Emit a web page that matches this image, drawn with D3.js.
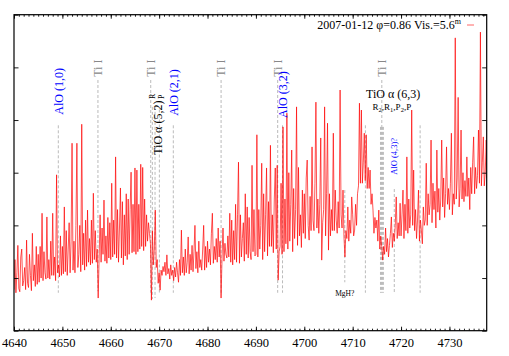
<!DOCTYPE html>
<html>
<head>
<meta charset="utf-8">
<script src="https://cdn.jsdelivr.net/npm/d3@7"></script>
<style>
body { margin: 0; background: #fff; }
svg text { font-family: "Liberation Serif", "DejaVu Serif", serif; }
</style>
</head>
<body>
<div id="chart"></div>
<script>
// spectrum, one value every 0.2 A from 4640.0 A (relative flux), 5 A per row
var waveStart = 4640;
var waveStep = 0.2;
var flux = [
  0.78, 1.35, 0.72, 1.10, 1.62, 0.80, 0.74, 1.40, 1.55, 0.85, 0.95, 1.20, 0.78, 1.72, 0.90, 0.82, 1.45, 1.05, 0.76, 1.85, 0.95, 1.25, 0.84, 1.60, 0.88,
  1.45, 0.92, 1.60, 1.00, 2.23, 0.95, 1.50, 1.10, 0.98, 2.16, 1.00, 1.35, 0.98, 1.70, 1.05, 2.23, 1.05, 1.40, 0.95, 2.96, 1.10, 1.25, 1.02, 1.80, 1.05,
  1.60, 1.08, 2.35, 1.12, 1.90, 1.05, 1.55, 2.05, 1.10, 1.70, 3.56, 1.15, 1.70, 1.10, 2.00, 3.56, 1.20, 1.45, 2.00, 1.12, 3.92, 1.25, 1.85, 1.15, 2.10,
  1.22, 2.29, 1.30, 1.75, 1.25, 2.10, 1.28, 2.61, 1.35, 1.90, 1.30, 1.55, 0.62, 1.40, 2.20, 1.30, 1.95, 1.45, 2.48, 1.32, 1.80, 1.28, 2.15, 1.38, 2.05,
  1.35, 2.80, 1.40, 2.10, 1.45, 3.30, 1.38, 2.30, 1.30, 1.95, 2.71, 1.38, 2.45, 1.25, 2.20, 1.42, 2.60, 1.35, 2.50, 1.45, 2.30, 3.01, 1.48, 2.40, 1.50,
  3.09, 1.45, 3.05, 1.50, 2.40, 1.55, 3.16, 1.60, 3.10, 1.52, 2.50, 1.60, 2.20, 1.70, 2.05, 1.85, 1.65, 0.58, 1.90, 1.25, 1.55, 2.29, 1.20, 1.35, 0.90,
  1.10, 0.77, 1.15, 1.05, 1.22, 1.12, 1.30, 1.05, 1.44, 1.08, 1.18, 0.98, 1.25, 1.05, 1.15, 0.95, 1.20, 1.02, 1.30, 1.10, 0.92, 1.35, 1.05, 1.91, 1.10,
  1.40, 1.05, 1.55, 1.10, 1.30, 1.78, 1.08, 1.45, 1.15, 1.62, 1.12, 1.50, 2.00, 1.18, 1.50, 1.10, 1.70, 1.20, 1.35, 1.15, 1.55, 2.00, 1.15, 1.60, 1.20,
  1.70, 1.30, 1.55, 1.25, 1.85, 2.23, 1.28, 1.60, 1.35, 1.75, 1.30, 1.95, 1.40, 1.70, 0.62, 1.40, 1.95, 1.32, 1.66, 1.45, 1.38, 1.80, 1.40, 2.23, 1.30,
  2.10, 1.25, 1.90, 1.35, 2.40, 1.30, 2.20, 3.20, 1.28, 2.20, 1.40, 1.75, 2.05, 1.32, 2.60, 1.45, 2.35, 1.38, 2.15, 1.50, 1.35, 3.14, 1.50, 2.30, 1.42,
  1.45, 3.72, 1.40, 2.30, 1.55, 2.00, 3.18, 1.35, 2.60, 1.50, 2.20, 3.09, 1.42, 2.45, 1.60, 3.52, 1.60, 2.20, 1.48, 2.50, 3.09, 1.55, 3.14, 0.96, 1.50,
  1.60, 2.80, 1.45, 3.87, 1.50, 2.50, 1.65, 4.13, 1.55, 3.00, 1.70, 2.40, 3.43, 1.50, 2.70, 1.75, 2.30, 4.25, 1.62, 3.10, 1.80, 2.20, 1.58, 2.67, 1.85,
  2.60, 1.75, 2.90, 3.24, 2.00, 1.72, 2.55, 1.90, 3.49, 2.10, 1.90, 2.80, 4.34, 1.95, 2.50, 1.85, 2.40, 3.66, 1.34, 2.05, 2.30, 4.25, 1.80, 2.60, 3.94,
  1.53, 2.60, 1.80, 2.30, 1.90, 3.75, 1.90, 2.67, 2.10, 1.85, 2.45, 1.95, 4.57, 2.20, 1.95, 2.67, 1.78, 1.40, 1.90, 1.75, 2.35, 1.70, 2.10, 1.85, 2.54,
  2.20, 1.80, 1.91, 2.40, 2.00, 2.60, 2.75, 4.32, 2.80, 4.19, 2.80, 3.20, 3.75, 2.85, 3.72, 2.70, 3.10, 2.70, 3.05, 2.40, 2.60, 2.29, 1.85, 2.15, 1.95,
  2.10, 1.70, 2.29, 1.55, 1.80, 1.60, 1.34, 1.60, 1.45, 1.95, 1.50, 1.75, 1.40, 1.62, 1.85, 2.16, 1.58, 1.85, 1.70, 2.00, 2.54, 1.75, 2.05, 1.80, 2.42,
  1.80, 2.20, 2.67, 1.75, 2.40, 1.90, 3.30, 1.85, 2.50, 1.95, 2.20, 4.19, 2.00, 3.05, 1.90, 2.30, 1.75, 2.10, 2.67, 1.70, 2.10, 1.91, 1.65, 2.35, 2.00,
  2.10, 3.18, 2.00, 2.60, 2.20, 2.40, 3.62, 2.05, 2.80, 2.30, 2.65, 1.95, 3.43, 2.25, 2.70, 2.10, 2.50, 3.62, 2.35, 2.90, 2.15, 2.60, 3.49, 2.40, 2.70,
  2.30, 2.80, 3.75, 2.20, 2.60, 2.40, 5.56, 2.50, 2.90, 4.43, 2.35, 2.70, 3.81, 2.50, 3.00, 2.45, 2.85, 2.55, 3.30, 2.55, 2.90, 2.30, 3.10, 2.60, 3.20,
  3.68, 2.60, 3.10, 2.70, 2.95, 3.81, 2.80, 5.67, 2.75, 3.20, 3.68, 2.75, 3.00, 3.62, 2.90, 3.30
];

var xTicks = [4640, 4650, 4660, 4670, 4680, 4690, 4700, 4710, 4720, 4730];
var yTicks = [0, 1, 2, 3, 4, 5, 6];

var legendDate = "2007-01-12 φ=0.86 Vis.=5.6";
var legendSup = "m";

// identification lines: wavelength, top, bottom (flux units)
var idLines = [
  [4649.16, 3.90, 0.72], // AlO (1,0)
  [4657.35, 4.76, 0.75], // Ti I
  [4668.26, 4.76, 0.72], // Ti I
  [4668.60, 4.25, 0.60], // TiO R
  [4669.15, 4.25, 0.62],
  [4670.05, 4.20, 0.72], // TiO P
  [4672.93, 3.90, 0.72], // AlO (2,1)
  [4682.80, 4.76, 0.72], // Ti I
  [4694.50, 4.76, 0.72], // Ti I
  [4695.50, 3.90, 0.72], // AlO (3,2)
  [4708.37, 2.67, 0.92], // MgH?
  [4712.63, 3.90, 0.72],
  [4715.75, 3.87, 0.72], // TiO (6,3)
  [4715.95, 3.87, 0.72],
  [4716.15, 3.87, 0.72],
  [4716.35, 3.87, 0.72],
  [4716.02, 4.76, 3.87], // Ti I
  [4718.60, 2.69, 0.72], // AlO (4,3)?
  [4723.94, 3.90, 0.72]
];

// vertical labels: wavelength, flux where the text starts, text, kind
var sideLabels = [
  [4649.16, 4.10, "AlO (1,0)", "alo"],
  [4657.35, 4.82, "Ti I", "ti"],
  [4668.26, 4.82, "Ti I", "ti"],
  [4669.63, 3.34, "TiO α (5,2)", "tio"],
  [4668.63, 4.40, "R", "branch"],
  [4670.35, 4.40, "P", "branch"],
  [4672.93, 4.08, "AlO (2,1)", "alo"],
  [4682.80, 4.82, "Ti I", "ti"],
  [4694.50, 4.82, "Ti I", "ti"],
  [4695.50, 4.04, "AlO (3,2)", "alo"],
  [4716.02, 4.82, "Ti I", "ti"],
  [4718.60, 2.96, "AlO (4,3)?", "alosmall"]
];

var W = 509, H = 356;
var plotL = 14, plotR = 486.7, plotT = 14.7, plotB = 330.7;

var svg = d3.select("#chart")
  .append("svg")
  .attr("width", W)
  .attr("height", H);

var x = d3.scaleLinear().domain([4640, 4737.7]).range([plotL, plotR]);
var y = d3.scaleLinear().domain([0, 6]).range([plotB, plotT]);

svg.append("clipPath").attr("id", "plotclip")
  .append("rect")
  .attr("x", plotL).attr("y", plotT)
  .attr("width", plotR - plotL).attr("height", plotB - plotT);

// dashed identification lines
svg.append("g")
  .selectAll("line")
  .data(idLines)
  .enter()
  .append("line")
  .attr("x1", function(d) { return x(d[0]); })
  .attr("x2", function(d) { return x(d[0]); })
  .attr("y1", function(d) { return y(d[1]); })
  .attr("y2", function(d) { return y(d[2]); })
  .attr("stroke", "#aaaaaa")
  .attr("stroke-width", 0.8)
  .attr("stroke-dasharray", "3,2");

// the spectrum
var line = d3.line()
  .x(function(d, i) { return x(waveStart + i * waveStep); })
  .y(function(d) { return y(d); });

svg.append("path")
  .datum(flux)
  .attr("clip-path", "url(#plotclip)")
  .attr("fill", "none")
  .attr("stroke", "#ff0000")
  .attr("stroke-width", 0.75)
  .attr("stroke-opacity", 0.9)
  .attr("d", line);

// axes, ticks pointing inward
var gx = svg.append("g").attr("transform", "translate(0," + plotB + ")")
  .call(d3.axisBottom(x).tickValues(xTicks).tickSize(-4).tickPadding(7).tickFormat(d3.format("d")));
svg.append("g").attr("transform", "translate(0," + plotB + ")")
  .call(d3.axisBottom(x).tickValues(d3.range(4641, 4738, 1)).tickSize(-2).tickFormat(""));
svg.append("g").attr("transform", "translate(0," + plotT + ")")
  .call(d3.axisTop(x).tickValues(xTicks).tickSize(-4).tickFormat(""));
svg.append("g").attr("transform", "translate(0," + plotT + ")")
  .call(d3.axisTop(x).tickValues(d3.range(4641, 4738, 1)).tickSize(-2).tickFormat(""));
svg.append("g").attr("transform", "translate(" + plotL + ",0)")
  .call(d3.axisLeft(y).tickValues(yTicks).tickSize(-4.5).tickFormat(""));
svg.append("g").attr("transform", "translate(" + plotR + ",0)")
  .call(d3.axisRight(y).tickValues(yTicks).tickSize(-4.5).tickFormat(""));

svg.selectAll(".domain").remove();
svg.selectAll(".tick line").attr("stroke", "#000").attr("stroke-width", 0.9);
gx.selectAll("text").attr("font-size", 12.5).attr("fill", "#000")
  .attr("font-family", "Liberation Serif");

svg.append("rect")
  .attr("x", plotL).attr("y", plotT)
  .attr("width", plotR - plotL).attr("height", plotB - plotT)
  .attr("fill", "none")
  .attr("stroke", "#000")
  .attr("stroke-width", 1.2);

// rotated labels
var styleOf = {
  alo: { fill: "#0000ff", size: 12 },
  ti: { fill: "#888888", size: 12 },
  tio: { fill: "#000000", size: 12 },
  branch: { fill: "#000000", size: 8 },
  alosmall: { fill: "#0000ff", size: 8.5 }
};

svg.append("g")
  .selectAll("text")
  .data(sideLabels)
  .enter()
  .append("text")
  .attr("x", function(d) { return x(d[0]); })
  .attr("y", function(d) { return y(d[1]); })
  .attr("dy", "0.35em")
  .attr("transform", function(d) { return "rotate(-90," + x(d[0]) + "," + y(d[1]) + ")"; })
  .attr("fill", function(d) { return styleOf[d[3]].fill; })
  .attr("font-size", function(d) { return styleOf[d[3]].size; })
  .text(function(d) { return d[2]; });

// TiO alpha (6,3) heads, written across
svg.append("text")
  .attr("x", x(4718.35)).attr("y", y(4.42))
  .attr("text-anchor", "middle")
  .attr("font-size", 12)
  .text("TiO α (6,3)");

var heads = svg.append("text")
  .attr("x", x(4718.1)).attr("y", y(4.19))
  .attr("text-anchor", "middle")
  .attr("font-size", 9);
heads.append("tspan").text("R");
heads.append("tspan").attr("font-size", 6.5).attr("dy", 2).text("2");
heads.append("tspan").attr("dy", -2).text(",R");
heads.append("tspan").attr("font-size", 6.5).attr("dy", 2).text("1");
heads.append("tspan").attr("dy", -2).text(",P");
heads.append("tspan").attr("font-size", 6.5).attr("dy", 2).text("2");
heads.append("tspan").attr("dy", -2).text(",P");

svg.append("text")
  .attr("x", x(4708.37)).attr("y", y(0.66))
  .attr("text-anchor", "middle")
  .attr("font-size", 7.5)
  .text("MgH?");

// legend
var leg = svg.append("text")
  .attr("x", 461).attr("y", 29)
  .attr("text-anchor", "end")
  .attr("font-size", 12);
leg.append("tspan").text(legendDate);
leg.append("tspan").attr("font-size", 8).attr("dy", -5).text(legendSup);

svg.append("line")
  .attr("x1", 467).attr("x2", 474)
  .attr("y1", 25).attr("y2", 25)
  .attr("stroke", "#ff0000")
  .attr("stroke-opacity", 0.6)
  .attr("stroke-width", 1);
</script>
</body>
</html>
